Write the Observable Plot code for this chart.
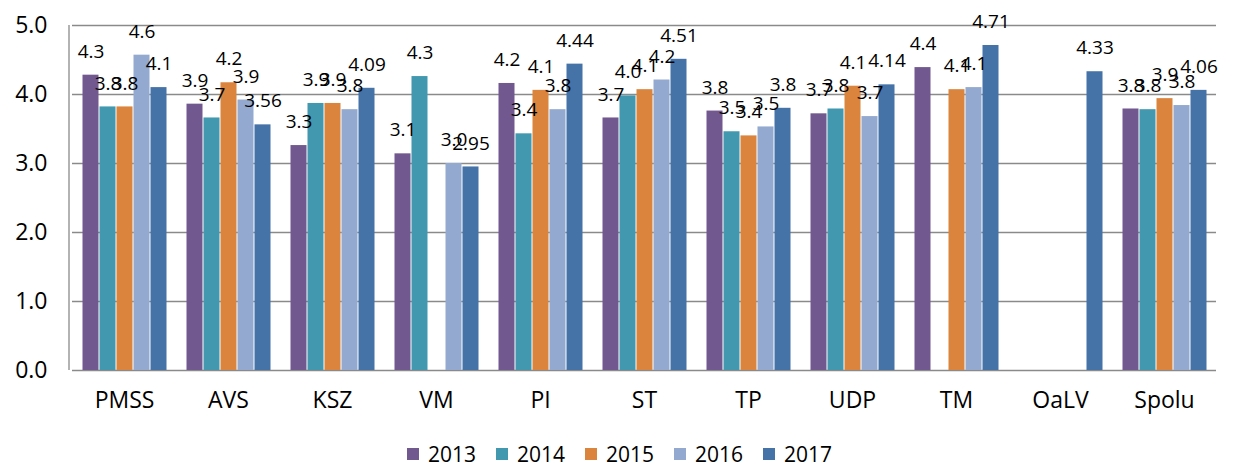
<!DOCTYPE html>
<html>
<head>
<meta charset="utf-8">
<script src="https://cdn.jsdelivr.net/npm/d3@7"></script>
<script src="https://cdn.jsdelivr.net/npm/@observablehq/plot@0.6"></script>
<style>
  body { margin: 0; background: #fff; font-family: "Open Sans", sans-serif; }
  #legend { display: flex; justify-content: center; align-items: center; height: 28px; font-size: 21px; color: #000; }
  #legend .item { display: flex; align-items: center; margin: 0 10px; }
  #legend .sw { width: 12px; height: 12px; margin-right: 9px; }
</style>
</head>
<body>
<div id="chart"></div>
<div id="legend"></div>
<script>
const categories = ["PMSS","AVS","KSZ","VM","PI","ST","TP","UDP","TM","OaLV","Spolu"];
const years = ["2013","2014","2015","2016","2017"];
const v2013 = [4.28, 3.86, 3.26, 3.14, 4.16, 3.66, 3.76, 3.72, 4.39, null, 3.79];
const v2014 = [3.82, 3.66, 3.87, 4.26, 3.43, 3.98, 3.46, 3.79, null, null, 3.78];
const v2015 = [3.82, 4.17, 3.87, null, 4.06, 4.07, 3.40, 4.12, 4.07, null, 3.94];
const v2016 = [4.57, 3.92, 3.78, 3.00, 3.78, 4.21, 3.53, 3.68, 4.10, null, 3.84];
const v2017 = [4.1, 3.56, 4.09, 2.95, 4.44, 4.51, 3.8, 4.14, 4.71, 4.33, 4.06];
const colors = ["#71588F", "#4198AF", "#DB843D", "#93A9CF", "#4572A7"];
const yTicks = [0, 1, 2, 3, 4, 5];

const series = [v2013, v2014, v2015, v2016, v2017];
const data = [];
categories.forEach((c, i) => {
  years.forEach((y, j) => {
    const v = series[j][i];
    if (v != null) data.push({cat: c, year: y, value: v,
      label: y === "2017" ? String(v) : v.toFixed(1)});
  });
});

const W = 1239, H = 440, mL = 69, mR = 21, mT = 25, mB = 70;

const chart = Plot.plot({
  width: W, height: H,
  marginLeft: mL, marginRight: mR, marginTop: mT, marginBottom: mB,
  style: {fontFamily: "'Open Sans', sans-serif", fontSize: "23px", color: "#000", background: "#fff"},
  fx: {domain: categories, padding: 0, axis: "bottom", tickSize: 0, tickPadding: 21, label: null},
  x: {domain: years, paddingInner: 0, paddingOuter: 0.4, axis: null},
  y: {domain: [0, 5], ticks: yTicks, tickFormat: d => d.toFixed(1), tickSize: 0, tickPadding: 25, label: null},
  color: {domain: years, range: colors},
  marks: [
    Plot.ruleY(yTicks, {stroke: "#8a8a8a", strokeWidth: 1.3}),
    Plot.barY(data, {fx: "cat", x: "year", y: "value", fill: "year", insetLeft: 0.5, insetRight: 0.5}),
    Plot.text(data, {fx: "cat", x: "year", y: "value", text: "label", dy: -23.5, fontSize: 19, fill: "#000"})
  ]
});

// left vertical axis line drawn from the library's y scale
const ys = chart.scale("y");
d3.select(chart).append("line")
  .attr("x1", mL).attr("x2", mL)
  .attr("y1", ys.apply(0)).attr("y2", ys.apply(5))
  .attr("stroke", "#8a8a8a").attr("stroke-width", 1.3);

document.getElementById("chart").appendChild(chart);

const legend = document.getElementById("legend");
years.forEach((y, j) => {
  const item = document.createElement("div");
  item.className = "item";
  item.innerHTML = `<span class="sw" style="background:${colors[j]}"></span><span>${y}</span>`;
  legend.appendChild(item);
});
</script>
</body>
</html>
